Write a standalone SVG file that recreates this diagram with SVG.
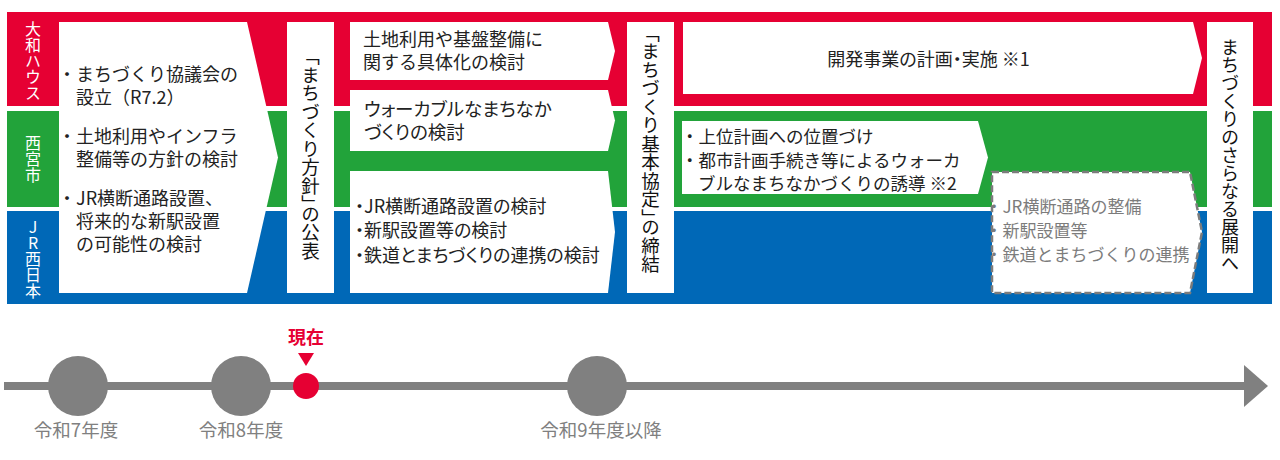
<svg xmlns="http://www.w3.org/2000/svg" width="1280" height="460" viewBox="0 0 1280 460">
<style>
.t{font-family:'Noto Sans CJK JP','Noto Sans',sans-serif;font-size:18px;fill:#222}
.p{font-feature-settings:"palt"}
.s17{font-size:17.5px}
.g{fill:#7c7c7c;font-size:17px}
.lab{font-family:'Noto Sans CJK JP','Noto Sans',sans-serif;font-size:16px;fill:#fff;writing-mode:vertical-rl;text-anchor:middle}
.vt{font-family:'Noto Sans CJK JP','Noto Sans',sans-serif;font-size:18.5px;fill:#111;writing-mode:vertical-rl;text-anchor:middle;font-feature-settings:"vhal"}
.box{fill:#fff}
.tl{font-family:'Noto Sans CJK JP','Noto Sans',sans-serif;font-size:18.5px;fill:#808080;text-anchor:middle}
</style>
<rect width="1280" height="460" fill="#fff"/>
<g id="bands">
<rect x="7" y="12" width="1265" height="94" fill="#E60033"/>
<rect x="7" y="111" width="1265" height="96" fill="#22A33A"/>
<rect x="7" y="211" width="1265" height="93" fill="#0068B7"/>
</g>
<g id="labels">
<text class="lab" x="33" y="61">大和ハウス</text>
<text class="lab" x="33" y="159">西宮市</text>
<text class="lab" x="33" y="259" style="text-orientation:upright">JR西日本</text>
</g>
<g id="node-council">
<path class="box" d="M59,22 L247,22 L278,157.5 L247,293 L59,293 Z"/>
<text class="t" x="58" y="81">・まちづくり協議会の</text>
<text class="t" x="76" y="104">設立（R7.2）</text>
<text class="t" x="58" y="143">・土地利用やインフラ</text>
<text class="t" x="76" y="166">整備等の方針の検討</text>
<text class="t" x="58" y="205">・JR横断通路設置、</text>
<text class="t" x="76" y="228">将来的な新駅設置</text>
<text class="t" x="76" y="251">の可能性の検討</text>
</g>
<g id="node-policy">
<rect class="box" x="287" y="22" width="47" height="271"/>
<text class="vt" x="310.5" y="158">「まちづくり方針」の公表</text>
</g>
<g id="node-landuse">
<path class="box" d="M350,22 L608,22 L615,51 L608,80 L350,80 Z"/>
<text class="t" x="363" y="46">土地利用や基盤整備に</text>
<text class="t" x="363" y="69">関する具体化の検討</text>
</g>
<g id="node-walkable">
<path class="box" d="M350,90 L608,90 L615,120.5 L608,151 L350,151 Z"/>
<text class="t p" x="364" y="116" style="font-size:18.5px">ウォーカブルなまちなか</text>
<text class="t p" x="364" y="139" style="font-size:18.5px">づくりの検討</text>
</g>
<g id="node-jrstudy">
<path class="box" d="M350,171 L608,171 L615,232 L608,293 L350,293 Z"/>
<text class="t p" x="355" y="213">・JR横断通路設置の検討</text>
<text class="t p" x="355" y="237">・新駅設置等の検討</text>
<text class="t p" x="355" y="262">・鉄道とまちづくりの連携の検討</text>
</g>
<g id="node-agreement">
<rect class="box" x="627" y="22" width="47" height="271"/>
<text class="vt" x="650.5" y="153">「まちづくり基本協定」の締結</text>
</g>
<g id="node-development">
<path class="box" d="M683,22 L1193,22 L1202,58 L1193,94 L683,94 Z"/>
<text class="t p" x="928.5" y="66" text-anchor="middle">開発事業の計画・実施 ※1</text>
</g>
<g id="node-plan">
<path class="box" d="M682,121 L978,121 L988,157.5 L978,194 L682,194 Z"/>
<text class="t s17" x="681" y="143">・上位計画への位置づけ</text>
<text class="t s17" x="681" y="167">・都市計画手続き等によるウォーカ</text>
<text class="t s17" x="698" y="190">ブルなまちなかづくりの誘導 ※2</text>
</g>
<g id="node-future">
<path d="M992,172 L1190,172 L1202,232 L1190,293 L992,293 Z" fill="#fff" stroke="#7c7c7c" stroke-width="2.5" stroke-dasharray="7 3"/>
<text class="t g" x="985.5" y="213">・JR横断通路の整備</text>
<text class="t g" x="985.5" y="237">・新駅設置等</text>
<text class="t g" x="985.5" y="261">・鉄道とまちづくりの連携</text>
</g>
<g id="node-next">
<rect class="box" x="1207" y="22" width="46" height="271"/>
<text class="vt" x="1230" y="155" style="font-size:18px">まちづくりのさらなる展開へ</text>
</g>
<g id="timeline">
<rect x="4" y="382" width="1241" height="8" fill="#808080"/>
<polygon points="1244,365 1268,386 1244,407" fill="#808080"/>
<circle cx="78" cy="386" r="30" fill="#808080"/>
<circle cx="241" cy="386" r="30" fill="#808080"/>
<circle cx="597" cy="386" r="30" fill="#808080"/>
<circle cx="306" cy="386" r="13" fill="#E60033"/>
<polygon points="298,353 314,353 306,366" fill="#E60033"/>
<text x="306" y="344" text-anchor="middle" style="font-family:'Noto Sans CJK JP','Noto Sans',sans-serif;font-size:18px;font-weight:bold;fill:#E60033">現在</text>
<text class="tl" x="76" y="437">令和7年度</text>
<text class="tl" x="241" y="437">令和8年度</text>
<text class="tl" x="601" y="437">令和9年度以降</text>
</g>
</svg>
